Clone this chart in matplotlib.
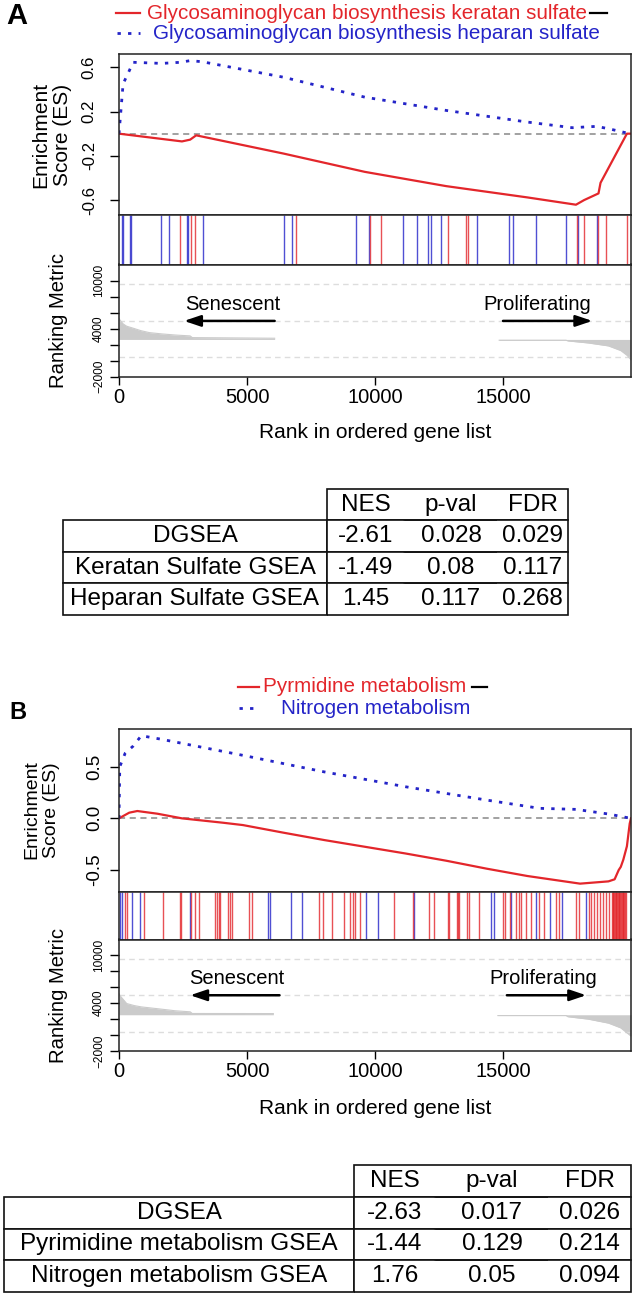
import matplotlib
matplotlib.use("Agg")
import matplotlib.pyplot as plt
from matplotlib.lines import Line2D

plt.rcParams['font.family'] = ['Liberation Sans', 'DejaVu Sans']

W, H = 633, 1296
RED = '#e3262b'
BLUE = '#2424c8'
GREY = '#cbcbcb'

# ---------------- panel A data ----------------
a_ker_rank = [0, 2460, 2780, 3015, 6430, 9600, 12780, 15950, 17850, 18170, 18730, 18810, 19840, 20000]
a_ker_es = [0, -0.07, -0.054, -0.015, -0.18, -0.345, -0.474, -0.576, -0.642, -0.60, -0.54, -0.444, 0.0, 0.0]
a_hep_rank = [0, 160, 555, 1670, 2400, 2780, 3250, 6430, 9600, 12780, 15950, 17700, 18650, 19120, 19840, 20000]
a_hep_es = [0, 0.45, 0.645, 0.635, 0.645, 0.66, 0.65, 0.51, 0.33, 0.21, 0.105, 0.054, 0.066, 0.045, 0.006, 0]

a_hits_hep = [100, 140, 430, 470, 1640, 1950, 2660, 2710, 3270, 6450, 6770, 9250, 9750, 11110, 11660,
              12060, 12170, 12580, 13970, 15230, 15390, 16300, 17460, 17930, 18680]
a_hits_ker = [2390, 2830, 2960, 6920, 9800, 10240, 12850, 13570, 13620, 17900, 18170, 18730, 19040, 19840]

a_metric_rank_l = [0, 40, 80, 160, 300, 555, 850, 1190, 1670, 2200, 2780, 2860, 6080]
a_metric_l = [5300, 5050, 4900, 4590, 4300, 4050, 3750, 3500, 3340, 3200, 3090, 2880, 2800]
a_metric_rank_r = [14850, 17460, 17540, 18330, 19120, 19600, 19840, 19950, 20000]
a_metric_r = [2550, 2550, 2460, 2210, 1840, 1260, 680, 300, 100]
a_base = 2650

tab_a_rows = ['DGSEA', 'Keratan Sulfate GSEA', 'Heparan Sulfate GSEA']
tab_a_nes = ['-2.61', '-1.49', '1.45']
tab_a_pval = ['0.028', '0.08', '0.117']
tab_a_fdr = ['0.029', '0.117', '0.268']

# ---------------- panel B data ----------------
b_pyr_rank = [0, 400, 715, 1500, 2460, 4050, 4840, 6430, 8015, 11190, 12780, 14360, 15950, 18010,
              19120, 19360, 19520, 19600, 19700, 19840, 19950, 20000]
b_pyr_es = [0, 0.055, 0.071, 0.045, 0.0, -0.042, -0.065, -0.139, -0.21, -0.34, -0.41, -0.487, -0.558,
            -0.632, -0.61, -0.59, -0.50, -0.47, -0.40, -0.27, -0.05, 0.0]
b_nit_rank = [0, 30, 240, 555, 870, 1670, 4840, 8015, 11190, 14360, 16430, 17850, 19120, 20000]
b_nit_es = [0, 0.5, 0.63, 0.70, 0.80, 0.765, 0.61, 0.45, 0.306, 0.177, 0.097, 0.087, 0.042, 0]

b_hits_nit = [40, 130, 494, 818, 2770, 5820, 5890, 6730, 7150, 9630, 10110, 11510, 14550, 14630,
              15300, 16280, 16830, 17320, 18230]
b_hits_pyr = [234, 320, 988, 1730, 2380, 2440, 2830, 2960, 3130, 3740, 3810, 3910, 3960, 4260, 4350,
              4430, 5080, 5210, 7810, 7970, 8330, 8790, 9010, 9140, 9200, 9400, 10760, 11500, 12100,
              12320, 12840, 12900, 13190, 13230, 13270, 13580, 13660, 14070, 15010, 15090, 15270,
              15500, 15610, 15700, 15890, 16090, 16390, 16610, 17060, 17190, 17840, 17950, 18340,
              18450, 18560, 18680, 18800, 18920, 19030, 19140, 19250, 19280, 19310, 19340, 19370,
              19400, 19430, 19460, 19490, 19520, 19550, 19580, 19610, 19640, 19670, 19700, 19730,
              19760, 19790]

b_metric_rank_l = [0, 40, 80, 300, 600, 870, 1670, 2200, 2780, 2860, 6030]
b_metric_l = [5210, 4950, 4790, 3960, 3700, 3540, 3250, 3050, 2920, 2710, 2700]
b_metric_rank_r = [14800, 17460, 17540, 18330, 19120, 19600, 19840, 19950, 20000]
b_metric_r = [2450, 2450, 2300, 2000, 1500, 900, 280, 0, -120]
b_base = 2550

tab_b_rows = ['DGSEA', 'Pyrimidine metabolism GSEA', 'Nitrogen metabolism GSEA']
tab_b_nes = ['-2.63', '-1.44', '1.76']
tab_b_pval = ['0.017', '0.129', '0.05']
tab_b_fdr = ['0.026', '0.214', '0.094']

tab_cols = ['NES', 'p-val', 'FDR']
rank_ticks = [-2000, 0, 2000, 4000, 6000, 8000, 10000]
rank_labels = ['\u22122000', '', '', '4000', '', '', '10000']
rank_grid = [9600, 5000, 400]

fig = plt.figure(figsize=(W / 100, H / 100), dpi=100)


def px_axes(x0, y0, x1, y1):
    return fig.add_axes([x0 / W, 1 - y1 / H, (x1 - x0) / W, (y1 - y0) / H])


def ftext(x, y, s, **kw):
    return fig.text(x / W, 1 - y / H, s, **kw)


def fline(x0, x1, y, **kw):
    fig.add_artist(Line2D([x0 / W, x1 / W], [1 - y / H, 1 - y / H], transform=fig.transFigure, **kw))


def frame(ax):
    for sp in ax.spines.values():
        sp.set_linewidth(1.1)
        sp.set_color('#222222')


def draw_panel(y_es, y_hit, y_rank, y_bot, red_rank, red_es, blue_rank, blue_es, es_lim, es_ticks,
               es_labels, es_fs, es_pad, hits_blue, hits_red, m_rank_l, m_l, m_rank_r, m_r, base,
               txt_y, arr_y, sen, pro):
    x0, x1 = 119, 631
    ax = px_axes(x0, y_es, x1, y_hit)
    ax.axhline(0, color='#888888', lw=1.1, ls=(0, (4, 3)))
    ax.plot(red_rank, red_es, color=RED, lw=1.6)
    ax.plot(blue_rank, blue_es, color=BLUE, lw=2.0, ls=(0, (1.2, 2.6)))
    ax.set_xlim(0, 20000)
    ax.set_ylim(*es_lim)
    ax.set_xticks([])
    ax.set_yticks(es_ticks)
    ax.set_yticklabels(es_labels, rotation=90, va='center', fontsize=es_fs)
    ax.tick_params(axis='y', length=6.5, width=1, pad=es_pad)
    frame(ax)

    hx = px_axes(x0, y_hit, x1, y_rank)
    hx.vlines(hits_blue, 0, 1, color=BLUE, lw=1.0, alpha=0.8)
    hx.vlines(hits_red, 0, 1, color=RED, lw=1.0, alpha=0.8)
    hx.set_xlim(0, 20000)
    hx.set_ylim(0, 1)
    hx.set_xticks([])
    hx.set_yticks([])
    frame(hx)

    rx = px_axes(x0, y_rank, x1, y_bot)
    for g in rank_grid:
        rx.axhline(g, color='#dddddd', lw=1.0, ls=(0, (4, 3)))
    rx.fill_between(m_rank_l, base, m_l, color=GREY, lw=0)
    rx.fill_between(m_rank_r, base, m_r, color=GREY, lw=0)
    rx.plot(m_rank_l, m_l, color=GREY, lw=0.8)
    rx.plot(m_rank_r, m_r, color=GREY, lw=0.8)
    rx.set_xlim(0, 20000)
    rx.set_ylim(-2000, 12000)
    rx.set_yticks(rank_ticks)
    rx.set_yticklabels(rank_labels, rotation=90, va='center', fontsize=8.6)
    rx.set_xticks([0, 5000, 10000, 15000])
    rx.set_xticklabels(['0', '5000', '10000', '15000'], fontsize=14.5)
    rx.tick_params(axis='y', length=6.5, width=1, pad=3.5)
    rx.tick_params(axis='x', length=6, width=1, pad=2)
    frame(rx)

    ap = dict(arrowstyle='-|>,head_length=0.8,head_width=0.27', color='black', lw=1.8,
              mutation_scale=12.5, shrinkA=0, shrinkB=0)
    rx.text(sen[0], txt_y, 'Senescent', ha='center', va='center', fontsize=14.5)
    rx.annotate('', xy=(sen[2], arr_y), xytext=(sen[1], arr_y), arrowprops=ap)
    rx.text(pro[0], txt_y, 'Proliferating', ha='center', va='center', fontsize=14.5)
    rx.annotate('', xy=(pro[2], arr_y), xytext=(pro[1], arr_y), arrowprops=ap)
    return ax, hx, rx


def draw_table(x0, y0, x1, y1, rows, nes, pval, fdr, widths):
    tx = px_axes(x0, y0, x1, y1)
    tx.axis('off')
    cells = [[''] + tab_cols] + [[r, n, p, f] for r, n, p, f in zip(rows, nes, pval, fdr)]
    tot = float(sum(widths))
    tb = tx.table(cellText=cells, cellLoc='center', bbox=[0, 0, 1, 1],
                  colWidths=[w / tot for w in widths])
    tb.auto_set_font_size(False)
    tb.set_fontsize(17.5)
    edges = ['closed', 'TBL', 'TB', 'TBR']
    for (r, c), cell in tb.get_celld().items():
        cell.set_linewidth(1.2)
        cell.set_edgecolor('#111111')
        if r == 0 and c == 0:
            cell.visible_edges = 'open'
        else:
            cell.visible_edges = edges[c]
    return tb


# ---------------- panel A ----------------
draw_panel(54, 215, 264.5, 376.7, a_ker_rank, a_ker_es, a_hep_rank, a_hep_es, (-0.735, 0.72),
           [-0.6, -0.2, 0.2, 0.6], ['-0.6', '-0.2', '0.2', '0.6'], 12.2, 9.5,
           a_hits_hep, a_hits_ker, a_metric_rank_l, a_metric_l, a_metric_rank_r, a_metric_r, a_base,
           6960, 4960, (4440, 6080, 2540), (16350, 15000, 18490))

ftext(17, 16, 'A', fontsize=21, fontweight='bold', ha='center', va='center')
fline(116, 140, 13.3, color=RED, lw=1.6)
ftext(146.6, 13.3, 'Glycosaminoglycan biosynthesis keratan sulfate', color=RED, fontsize=14.9,
      ha='left', va='center')
fline(590, 607, 13.3, color='black', lw=1.6)
fline(117, 140, 33.3, color=BLUE, lw=2.0, ls=(0, (1.2, 2.6)))
ftext(152.7, 33.3, 'Glycosaminoglycan biosynthesis heparan sulfate', color=BLUE, fontsize=14.9,
      ha='left', va='center')
ftext(51.7, 134.5, 'Enrichment\nScore (ES)', rotation=90, ha='center', va='center', fontsize=15,
      multialignment='center')
ftext(59, 320.6, 'Ranking Metric', rotation=90, ha='center', va='center', fontsize=14.6)
ftext(375.5, 433, 'Rank in ordered gene list', ha='center', va='center', fontsize=15)

draw_table(63, 489, 568, 615, tab_a_rows, tab_a_nes, tab_a_pval, tab_a_fdr, [264, 78, 92, 71])

# ---------------- panel B ----------------
draw_panel(729, 891.7, 939.5, 1051, b_pyr_rank, b_pyr_es, b_nit_rank, b_nit_es, (-0.71, 0.865),
           [-0.5, 0.0, 0.5], ['-0.5', '0.0', '0.5'], 13.5, 5,
           b_hits_nit, b_hits_pyr, b_metric_rank_l, b_metric_l, b_metric_rank_r, b_metric_r, b_base,
           7090, 5000, (4600, 6270, 2780), (16580, 15150, 18250))

ftext(17.5, 713, 'B', fontsize=17, fontweight='bold', ha='center', va='center')
fline(238, 258.5, 686.7, color=RED, lw=1.6)
ftext(262.6, 686.7, 'Pyrmidine metabolism', color=RED, fontsize=14.9, ha='left', va='center')
fline(472, 486.6, 686.7, color='black', lw=1.6)
fline(239, 257, 708.3, color=BLUE, lw=2.0, ls=(0, (1.2, 2.6)))
ftext(281, 708.3, 'Nitrogen metabolism', color=BLUE, fontsize=14.9, ha='left', va='center')
ftext(41.7, 810, 'Enrichment\nScore (ES)', rotation=90, ha='center', va='center', fontsize=14,
      multialignment='center')
ftext(59, 995.3, 'Ranking Metric', rotation=90, ha='center', va='center', fontsize=14.6)
ftext(375.5, 1109, 'Rank in ordered gene list', ha='center', va='center', fontsize=15)

draw_table(4, 1165, 631, 1292, tab_b_rows, tab_b_nes, tab_b_pval, tab_b_fdr, [350, 82, 112, 83])

fig.savefig('out.png', dpi=100)
